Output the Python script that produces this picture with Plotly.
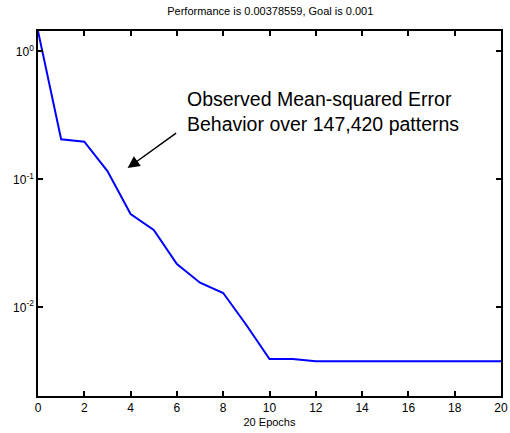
import math
import plotly.graph_objects as go

epochs = list(range(0, 21))
mse = [1.44, 0.2054, 0.1967, 0.116, 0.0536, 0.0402, 0.0218, 0.01556, 0.01294, 0.00728,
       0.00395, 0.00395, 0.00379, 0.00379, 0.00379, 0.00379, 0.00379, 0.00379, 0.00379,
       0.00379, 0.00378559]
x_ticks = list(range(0, 21, 2))
y_tickvals = [1, 0.1, 0.01]
y_ticktext = ["10<sup>0</sup>", "10<sup>-1</sup>", "10<sup>-2</sup>"]
y_minor = [m * d for d in (0.001, 0.01, 0.1) for m in range(2, 10)]

font_family = "Liberation Sans, Arial, sans-serif"
y_range = [-2.693, 0.159]
lw = 1.5

fig = go.Figure()
fig.add_trace(go.Scatter(x=epochs, y=mse, mode="lines",
                         line=dict(color="#0000FF", width=2), showlegend=False))

fig.update_layout(
    width=510, height=433,
    margin=dict(l=38, r=7, t=31, b=37),
    paper_bgcolor="white", plot_bgcolor="white",
    font=dict(family=font_family, color="black", size=12),
    title=dict(text="Performance is 0.00378559, Goal is 0.001", x=0.53, xanchor="center",
               y=1 - 11 / 433, yanchor="middle", font=dict(size=11)),
    xaxis=dict(range=[0, 20], tickvals=x_ticks, ticks="inside", ticklen=5,
               tickcolor="black", tickwidth=lw,
               showline=True, linecolor="black", linewidth=lw, mirror="ticks",
               showgrid=False, zeroline=False, automargin=False,
               title=dict(text="20 Epochs", font=dict(size=11), standoff=4),
               tickfont=dict(size=12)),
    yaxis=dict(type="log", range=y_range, tickvals=y_tickvals, ticktext=y_ticktext,
               ticks="inside", ticklen=5, tickcolor="black", tickwidth=lw,
               showline=True, linecolor="black", linewidth=lw, mirror="ticks",
               showgrid=False, zeroline=False, tickfont=dict(size=12)),
)

# minor log ticks, placed through the y axis scale
for v in y_minor:
    lv = math.log10(v)
    if y_range[0] <= lv <= y_range[1]:
        for x0, x1 in ((0, 0.0065), (0.9935, 1)):
            fig.add_shape(type="line", xref="x domain", yref="y", x0=x0, x1=x1, y0=lv, y1=lv,
                          line=dict(color="black", width=lw), layer="above")

fig.add_annotation(x=3.87, y=-0.912, xref="x", yref="y", text="", showarrow=True,
                   ax=50, ay=-36, arrowhead=2, arrowsize=1.6, arrowwidth=1.5, arrowcolor="black")
fig.add_annotation(x=(186 - 38) / 465, y=(396 - 86) / 365, xref="paper", yref="paper",
                   text="Observed Mean-squared Error<br>Behavior over 147,420 patterns",
                   showarrow=False, xanchor="left", yanchor="top", align="left",
                   font=dict(size=19.5))

fig.write_html("out.html", config={"displayModeBar": False},
               post_script="document.body.style.margin='0';document.body.style.padding='0';")
